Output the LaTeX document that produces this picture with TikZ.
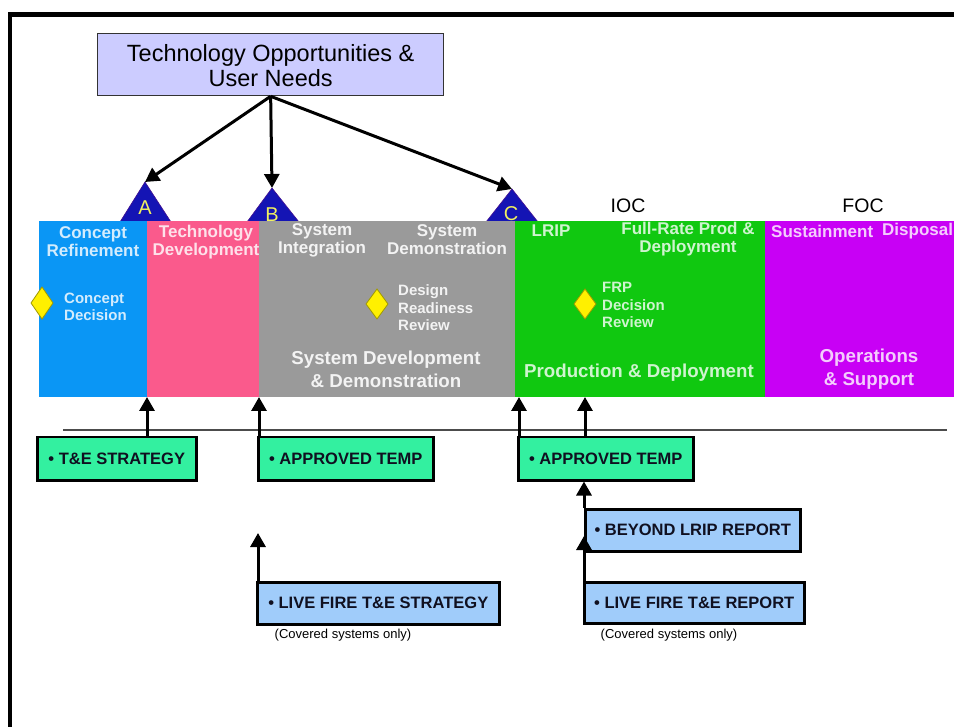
\documentclass[tikz,border=0pt]{standalone}
\usepackage{fontspec}
\setmainfont{Liberation Sans}
\usetikzlibrary{arrows.meta,shapes.geometric}
\definecolor{cBlue}{HTML}{0A96F5}
\definecolor{cPink}{HTML}{FA5A8C}
\definecolor{cGray}{HTML}{9A9A9A}
\definecolor{cGreen}{HTML}{10C810}
\definecolor{cPurple}{HTML}{C800F5}
\definecolor{cMint}{HTML}{33F0A0}
\definecolor{cLight}{HTML}{A0CCFA}
\definecolor{cLav}{HTML}{CCCCFF}
\definecolor{cTri}{HTML}{1414B4}
\definecolor{cYel}{HTML}{FFF000}
\definecolor{cOlive}{HTML}{A09A00}
\definecolor{cLetter}{HTML}{F0F060}
\definecolor{cInk}{HTML}{101020}
\begin{document}
\begin{tikzpicture}[x=1pt,y=-1pt,
  band/.style={anchor=north west, inner sep=0, outer sep=0, minimum height=176pt},
  hd/.style={font=\fontsize{17}{18}\selectfont\bfseries, align=center, inner sep=0},
  sm/.style={font=\fontsize{15}{17.5}\selectfont\bfseries, align=left, inner sep=0, anchor=west},
  big/.style={font=\fontsize{18.7}{23}\selectfont\bfseries, align=center, inner sep=0},
  box/.style={draw=black, line width=2.5pt, anchor=north west, inner sep=0, text=cInk, font=\fontsize{16.5}{18}\selectfont\bfseries},
  dia/.style={draw=cOlive, fill=cYel, line width=0.8pt},
  tri/.style={fill=cTri, draw=cTri!80!red, line width=0.6pt},
  tril/.style={text=cLetter, font=\fontsize{20}{20}\selectfont, inner sep=0},
  conn/.style={line width=3pt, -{Triangle[width=15pt,length=14pt]}},
  note/.style={font=\fontsize{13}{15}\selectfont, inner sep=0}
]
\useasboundingbox (0,0) rectangle (954,727);
\clip (0,0) rectangle (954,727);
\fill[white] (0,0) rectangle (954,727);
% frame
\draw[line width=4.5pt] (10,727) -- (10,14.5) -- (960,14.5);
% top box
\node[draw=black!80, line width=1.3pt, fill=cLav, anchor=north west, minimum width=346pt, minimum height=62pt, inner sep=0] (top) at (97,33) {};
\node[font=\fontsize{23.5}{25}\selectfont, align=center, inner sep=0] (toptxt) at ([yshift=-1pt]top.center) {Technology Opportunities \&\\User Needs};
% triangles
\coordinate (Atip) at (145,182);
\coordinate (Btip) at (272,188);
\coordinate (Ctip) at (512,189);
\fill[tri] (Atip) -- (120,222) -- (171,222) -- cycle;
\fill[tri] (Btip) -- (247,222) -- (299,222) -- cycle;
\fill[tri] (Ctip) -- (486,222) -- (538,222) -- cycle;
\node[tril] (Alab) at (145,208) {A};
\node[tril] (Blab) at (272,215) {B};
\node[tril] (Clab) at (511,214) {C};
% bands
\node[band, fill=cBlue, minimum width=108pt] (cr) at (39,221) {};
\node[band, fill=cPink, minimum width=112pt] (td) at (147,221) {};
\node[band, fill=cGray, minimum width=256pt] (sdd) at (259,221) {};
\node[band, fill=cGreen, minimum width=250pt] (pd) at (515,221) {};
\node[band, fill=cPurple, minimum width=200pt] (os) at (765,221) {};
% milestones
\node[font=\fontsize{19.5}{19}\selectfont, inner sep=0] (ioc) at (628,206) {IOC};
\node[font=\fontsize{19.5}{19}\selectfont, inner sep=0] (foc) at (863,206) {FOC};
% headers
\node[hd, text=white!82!cBlue] (h1) at (93,242) {Concept\\Refinement};
\node[hd, text=white!82!cPink] (h2) at (206,242) {Technology\\Development};
\node[hd, text=white!88!cGray] (h3) at (322,240) {System\\Integration};
\node[hd, text=white!88!cGray] (h4) at (447,240) {System\\Demonstration};
\node[hd, text=white!80!cGreen] (h5) at (551,231) {LRIP};
\node[hd, text=white!80!cGreen] (h6) at (688,239) {Full-Rate Prod \&\\Deployment};
\node[hd, text=white!80!cPurple, anchor=west] (h7) at (771,231) {Sustainment};
\node[hd, text=white!80!cPurple, anchor=west] (h8) at (882,231) {Disposal};
% diamonds
\coordinate (cd) at (42,303);
\coordinate (drr) at (377,304);
\coordinate (frp) at (585,304);
\filldraw[dia] (cd) +(-11,0) -- +(0,-16) -- +(11,0) -- +(0,16) -- cycle;
\filldraw[dia] (drr) +(-11,0) -- +(0,-15) -- +(11,0) -- +(0,15) -- cycle;
\filldraw[dia] (frp) +(-11,0) -- +(0,-15) -- +(11,0) -- +(0,15) -- cycle;
\node[sm, text=white!82!cBlue] (cdt) at (64,307) {Concept\\Decision};
\node[sm, text=white!88!cGray] (drrt) at (398,308) {Design\\Readiness\\Review};
\node[sm, text=white!80!cGreen] (frpt) at (602,305) {FRP\\Decision\\Review};
% phase names
\node[big, text=white!88!cGray] (p3) at (386,369) {System Development\\\& Demonstration};
\node[big, text=white!80!cGreen] (p4) at (639,373) {Production \& Deployment};
\node[big, text=white!80!cPurple] (p5) at (869,369) {Operations\\\& Support};
% separator
\draw[black!70, line width=1.3pt] (63,430) -- (947,430);
% boxes
\node[box, fill=cMint, minimum width=159pt, minimum height=43pt] (te) at (36,436) {• T\&E STRATEGY};
\node[box, fill=cMint, minimum width=175pt, minimum height=43pt] (at1) at (257,436) {• APPROVED TEMP};
\node[box, fill=cMint, minimum width=175pt, minimum height=43pt] (at2) at (517,436) {• APPROVED TEMP};
\node[box, fill=cLight, minimum width=215pt, minimum height=42pt] (bl) at (584,508) {• BEYOND LRIP REPORT};
\node[box, fill=cLight, minimum width=220pt, minimum height=41pt] (lfr) at (583,581) {• LIVE FIRE T\&E REPORT};
\node[box, fill=cLight, minimum width=242pt, minimum height=42pt] (lfs) at (256,581) {• LIVE FIRE T\&E STRATEGY};
\node[note] (n1) at (343,635) {(Covered systems only)};
\node[note] (n2) at (669,635) {(Covered systems only)};
% connectors from top
\coordinate (src) at (top.south);
\draw[conn] (src) -- (Atip);
\draw[conn] (src) -- (Btip);
\draw[conn] (src) -- (Ctip);
% connectors upward
\draw[conn] (te.north -| cr.south east) -- (cr.south east);
\draw[conn] ([xshift=2pt]at1.north west) -- ([xshift=2pt]at1.north west |- td.south);
\draw[conn] ([xshift=2pt]at2.north west) -- ([xshift=2pt]at2.north west |- pd.south);
\draw[conn] (at2.north -| frp) -- (pd.south -| frp);
\draw[conn] (bl.north west) -- (bl.north west |- at2.south);
\coordinate (lfrtip) at (584,536);
\draw[conn] (lfr.north -| lfrtip) -- (lfrtip);
\coordinate (lfstip) at (258,533);
\draw[conn] (lfs.north -| lfstip) -- (lfstip);
\end{tikzpicture}
\end{document}
